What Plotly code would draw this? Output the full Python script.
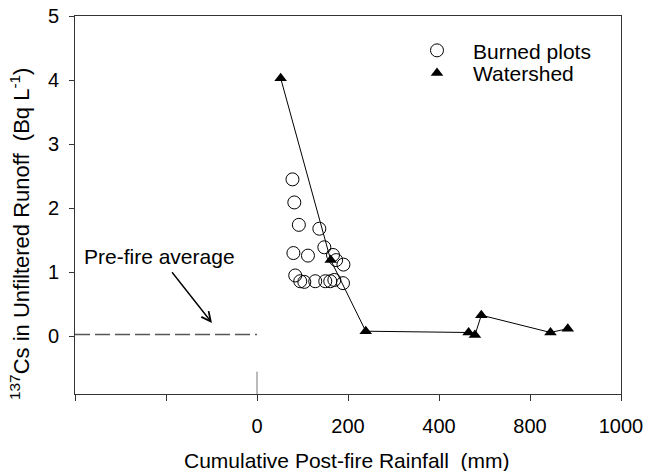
import plotly.graph_objects as go

# Axis positions (linear axis units); tick labels as printed on the original
x_tickvals = [0, 200, 400, 600, 800]
x_ticktext = ["0", "200", "400", "800", "1000"]
x_minor_tickvals = [-400, -200]
y_tickvals = [0, 1, 2, 3, 4, 5]

burned_x = [78, 82, 92, 137, 80, 112, 148, 167, 174, 190, 84, 95, 104, 128, 150, 161, 170, 189]
burned_y = [2.45, 2.09, 1.74, 1.68, 1.30, 1.26, 1.39, 1.27, 1.19, 1.12, 0.95, 0.86, 0.85, 0.86, 0.86, 0.86, 0.88, 0.83]

shed_x = [52, 162, 239, 465, 479, 493, 645, 683]
shed_y = [4.03, 1.19, 0.08, 0.06, 0.02, 0.33, 0.06, 0.12]

prefire_x = [-400, 0]
prefire_y = [0.03, 0.03]

FONT = "Liberation Sans, Arial, sans-serif"
L, R, T, B = 75, 24, 16, 77
PW, PH = 645 - L - R, 471 - T - B


def px(xp):
    return (xp - L) / PW


def py(yp):
    return (471 - B - yp) / PH


fig = go.Figure()
fig.add_trace(go.Scatter(
    x=prefire_x, y=prefire_y, mode="lines", showlegend=False,
    line=dict(color="#555555", width=1.5, dash="15px,5px"), hoverinfo="skip"))
fig.add_trace(go.Scatter(
    x=shed_x, y=shed_y, mode="lines", showlegend=False,
    line=dict(color="black", width=1), hoverinfo="skip"))
fig.add_trace(go.Scatter(
    x=burned_x, y=burned_y, mode="markers", name="Burned plots", legend="legend",
    marker=dict(symbol="circle-open", size=13, color="black", line=dict(width=1, color="black"))))
fig.add_trace(go.Scatter(
    x=shed_x, y=shed_y, mode="markers", name="Watershed", legend="legend2",
    marker=dict(symbol="triangle-up", size=11, color="black")))

# short vertical marker at x=0 below the data
fig.add_shape(type="line", x0=0, x1=0, y0=-0.9, y1=-0.55, xref="x", yref="y",
              line=dict(color="#777777", width=1))

# "Pre-fire average" label with arrow pointing at the dashed line
fig.add_annotation(x=-99, y=0.21, xref="x", yref="y", ax=-52, ay=-66,
                   text="Pre-fire average", showarrow=True, arrowhead=5,
                   arrowsize=1.3, arrowwidth=1.4, arrowcolor="black", startstandoff=3,
                   font=dict(family=FONT, size=21, color="black"))

fig.add_annotation(x=px(347), y=py(460), xref="paper", yref="paper",
                   text="Cumulative Post-fire Rainfall  (mm)", showarrow=False,
                   xanchor="center", yanchor="middle",
                   font=dict(family=FONT, size=21, color="black"))
fig.add_annotation(x=px(20), y=py(234), xref="paper", yref="paper",
                   text="<sup>137</sup>Cs in Unfiltered Runoff  (Bq L<sup>-1</sup>)",
                   showarrow=False, textangle=-90, xanchor="center", yanchor="middle",
                   font=dict(family=FONT, size=22, color="black"))

leg_common = dict(xanchor="left", yanchor="middle", bgcolor="rgba(0,0,0,0)",
                  font=dict(family=FONT, size=21, color="black"), itemwidth=62)

fig.update_layout(
    width=645, height=471,
    margin=dict(l=L, r=R, t=T, b=B),
    plot_bgcolor="white", paper_bgcolor="white",
    font=dict(family=FONT, size=20, color="black"),
    legend=dict(x=px(401), y=py(50.7), **leg_common),
    legend2=dict(x=px(401), y=py(73.3), **leg_common),
    xaxis=dict(range=[-400, 800], tickvals=x_tickvals, ticktext=x_ticktext, automargin=False,
               showgrid=False, zeroline=False, showline=True, linecolor="#333333",
               linewidth=1, mirror=True, ticks="outside", ticklen=6, tickcolor="#333333",
               ticklabelstandoff=8,
               minor=dict(tickvals=x_minor_tickvals, ticks="outside", ticklen=6,
                          tickcolor="#333333", showgrid=False)),
    yaxis=dict(range=[-0.9, 5], tickvals=y_tickvals, automargin=False,
               showgrid=False, zeroline=False, showline=True, linecolor="#333333",
               linewidth=1, mirror=True, ticks="outside", ticklen=5, tickcolor="#333333",
               ticklabelstandoff=6),
)

fig.write_html("out.html", config={"displayModeBar": False},
               post_script="document.body.style.margin='0';")
